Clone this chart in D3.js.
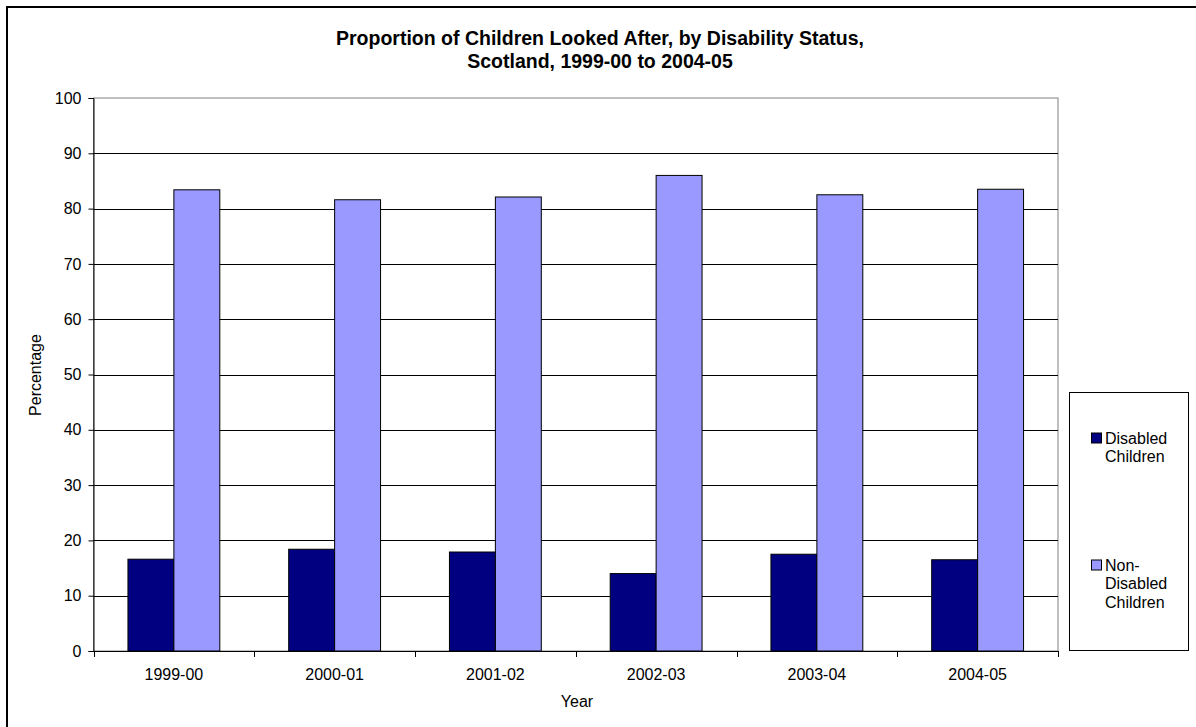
<!DOCTYPE html>
<html><head><meta charset="utf-8">
<script src="https://cdn.jsdelivr.net/npm/d3@7"></script>
<style>
body{margin:0;background:#fff;}
svg{display:block;font-family:Arial,"Liberation Sans",sans-serif;}
</style></head>
<body><svg id="c" width="1196" height="727"></svg>
<script>
const categories = ["1999-00","2000-01","2001-02","2002-03","2003-04","2004-05"];
const seriesNames = ["Disabled Children","Non-Disabled Children"];
const disabled = [16.6,18.4,17.9,14.0,17.5,16.5];
const nonDisabled = [83.4,81.6,82.1,86.0,82.5,83.5];
const yTicks = [0,10,20,30,40,50,60,70,80,90,100];
const colors = ["#000080","#9999FF"];
const title = ["Proportion of Children Looked After, by Disability Status,","Scotland, 1999-00 to 2004-05"];

const svg = d3.select("#c");
const L=93.5, R=1058, T=98, B=651;

// outer chart border
svg.append("rect").attr("x",7).attr("y",7).attr("width",1220).attr("height",740)
  .attr("fill","#fff").attr("stroke","#000").attr("stroke-width",2);

const y = d3.scaleLinear().domain([0,100]).range([B,T]);
const x0 = d3.scaleBand().domain(categories).range([L,R]).paddingInner(1.5/3.5).paddingOuter(0.75/3.5);
const x1 = d3.scaleBand().domain(seriesNames).range([0,x0.bandwidth()]);

// plot border (gray)
svg.append("rect").attr("x",L).attr("y",T).attr("width",R-L).attr("height",B-T)
  .attr("fill","none").attr("stroke","#808080").attr("stroke-width",1);

// gridlines
svg.append("g").selectAll("line").data(yTicks.filter(d=>d>0 && d<100)).join("line")
  .attr("x1",L).attr("x2",R).attr("y1",d=>Math.round(y(d))+0.5).attr("y2",d=>Math.round(y(d))+0.5)
  .attr("stroke","#000").attr("stroke-width",1);

// bars
const data = categories.map((c,i)=>({c, vals:[disabled[i],nonDisabled[i]]}));
const g = svg.append("g");
data.forEach(d=>{
  d.vals.forEach((v,j)=>{
    g.append("rect")
      .attr("x",x0(d.c)+x1(seriesNames[j]))
      .attr("y",y(v)).attr("width",x1.bandwidth()).attr("height",B-y(v))
      .attr("fill",colors[j]).attr("stroke","#000").attr("stroke-width",1);
  });
});

// y axis
const ya = svg.append("g").attr("transform",`translate(${L},0)`)
  .call(d3.axisLeft(y).tickValues(yTicks).tickSize(5).tickPadding(7));
ya.select(".domain").attr("stroke","#000");
ya.selectAll(".tick line").attr("stroke","#000");
ya.selectAll("text").attr("font-size",16).attr("fill","#000").attr("font-family",null);

// x axis
const xa = svg.append("g").attr("transform",`translate(0,${B})`)
  .call(d3.axisBottom(x0).tickSize(0).tickPadding(18));
xa.select(".domain").attr("stroke","#000");
xa.selectAll("text").attr("font-size",16).attr("fill","#000").attr("font-family",null);
const step = x0.step();
const bounds = categories.map(c=>x0(c)-step*x0.paddingInner()/2);
bounds.push(R);
xa.selectAll("line.b").data(bounds).join("line").attr("class","b")
  .attr("x1",d=>Math.round(d)+0.5).attr("x2",d=>Math.round(d)+0.5).attr("y1",0).attr("y2",6)
  .attr("stroke","#000");

// titles
svg.append("g").selectAll("text").data(title).join("text")
  .attr("x",600).attr("y",(d,i)=>45+i*23).attr("text-anchor","middle")
  .attr("font-size",19.5).attr("font-weight","bold").text(d=>d);
svg.append("text").attr("x",577).attr("y",707).attr("text-anchor","middle").attr("font-size",16).text("Year");
svg.append("text").attr("transform","translate(41,375) rotate(-90)").attr("text-anchor","middle")
  .attr("font-size",16).text("Percentage");

// legend
svg.append("rect").attr("x",1069.5).attr("y",392.5).attr("width",119).attr("height",258)
  .attr("fill","#fff").attr("stroke","#000").attr("stroke-width",1);
const legendLines = [["Disabled","Children"],["Non-","Disabled","Children"]];
const legY = [443.5,570.5];
seriesNames.forEach((s,j)=>{
  svg.append("rect").attr("x",1091.5).attr("y",legY[j]-10.5).attr("width",10).attr("height",10)
    .attr("fill",colors[j]).attr("stroke","#000");
  const t = svg.append("text").attr("x",1105).attr("y",legY[j]).attr("font-size",16);
  legendLines[j].forEach((ln,k)=>t.append("tspan").attr("x",1105).attr("dy",k?18.5:0).text(ln));
});
</script></body></html>
